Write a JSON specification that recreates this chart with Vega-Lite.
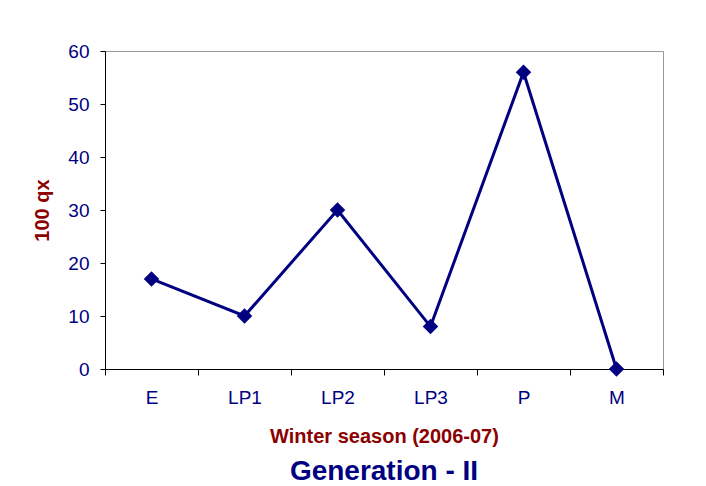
{
  "$schema": "https://vega.github.io/schema/vega-lite/v6.json",
  "width": 558,
  "height": 318,
  "autosize": {"type": "none"},
  "padding": {"left": 105, "top": 51, "right": 43, "bottom": 117},
  "background": "white",
  "data": {"values": [
    {"stage": "E", "qx": 17},
    {"stage": "LP1", "qx": 10},
    {"stage": "LP2", "qx": 30},
    {"stage": "LP3", "qx": 8},
    {"stage": "P", "qx": 56},
    {"stage": "M", "qx": 0}
  ]},
  "title": {
    "text": "Generation - II",
    "orient": "bottom",
    "anchor": "middle",
    "font": "Liberation Sans",
    "fontSize": 28,
    "fontWeight": "bold",
    "color": "#000080",
    "offset": 12
  },
  "config": {
    "view": {"stroke": "#999999", "strokeWidth": 1},
    "axis": {
      "domainColor": "#000000",
      "tickColor": "#000000",
      "labelFont": "Liberation Sans",
      "labelFontSize": 19,
      "labelColor": "#000080",
      "titleFont": "Liberation Sans",
      "titleFontSize": 20,
      "titleFontWeight": "bold",
      "titleColor": "#8B0000",
      "grid": false
    }
  },
  "layer": [
    {
      "mark": {"type": "line", "color": "#000080", "strokeWidth": 3},
      "encoding": {
        "x": {"field": "stage", "type": "nominal", "sort": null,
              "scale": {"paddingInner": 0, "paddingOuter": 0},
              "axis": {"labelAngle": 0, "tickBand": "extent", "tickSize": 6, "labelPadding": 13,
                       "title": "Winter season (2006-07)", "titlePadding": 19}},
        "y": {"field": "qx", "type": "quantitative",
              "scale": {"domain": [0, 60], "nice": false},
              "axis": {"values": [0, 10, 20, 30, 40, 50, 60], "tickSize": 5, "labelPadding": 11,
                       "title": "100 qx", "titlePadding": 15}}
      }
    },
    {
      "mark": {"type": "point", "shape": "diamond", "filled": true, "color": "#000080", "size": 240, "opacity": 1},
      "encoding": {
        "x": {"field": "stage", "type": "nominal", "sort": null},
        "y": {"field": "qx", "type": "quantitative"}
      }
    }
  ]
}
